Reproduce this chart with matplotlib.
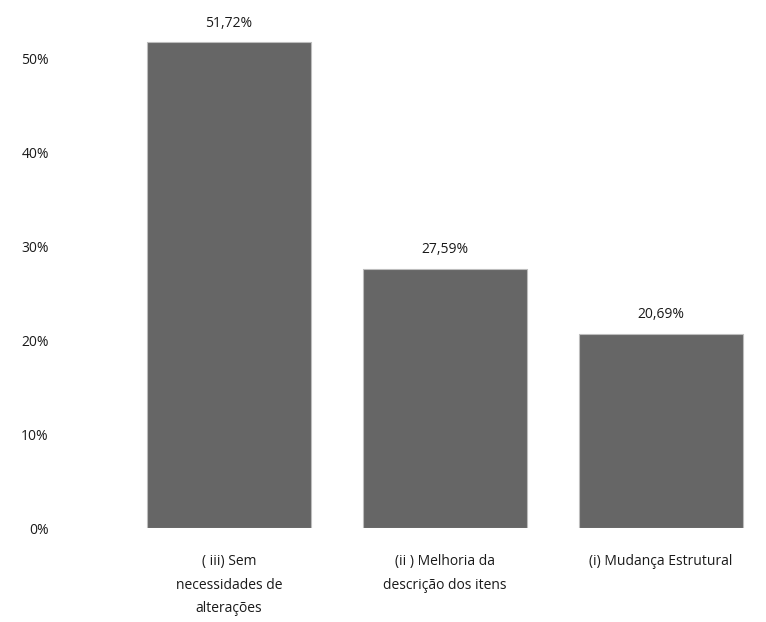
import matplotlib.pyplot as plt
from matplotlib.ticker import FuncFormatter

plt.rcParams['font.family'] = ['Open Sans', 'DejaVu Sans']

# respostas (percentual)
categorias = ["( iii) Sem\nnecessidades de\nalterações",
              "(ii ) Melhoria da\ndescrição dos itens",
              "(i) Mudança Estrutural"]
valores = [51.72, 27.59, 20.69]
yticks = [0, 10, 20, 30, 40, 50]

fig = plt.figure(figsize=(7.66, 6.22), dpi=100)
ax = fig.add_axes([121 / 766, 94 / 622, 645 / 766, 517 / 622])

x = range(len(valores))
barras = ax.bar(x, valores, width=0.755, color='#666666',
                edgecolor='#bdbdbd', linewidth=0.8)

for b, v in zip(barras, valores):
    ax.text(b.get_x() + b.get_width() / 2, v + 1.2,
            f"{v:.2f}".replace('.', ',') + '%',
            ha='center', va='bottom', fontsize=10, color='#1a1a1a')

ax.set_xlim(-0.5, -0.5 + 645 / 216)
ax.set_ylim(0, 55)
ax.set_yticks(yticks)
ax.yaxis.set_major_formatter(FuncFormatter(lambda v, p: f"{v:.0f}%"))
ax.set_xticks(list(x))
ax.set_xticklabels(categorias, fontsize=10, color='#1a1a1a', linespacing=1.75)
ax.tick_params(axis='y', length=0, pad=52, labelsize=10, labelcolor='#1a1a1a')
ax.tick_params(axis='x', length=0, pad=19)
for lado in ax.spines.values():
    lado.set_visible(False)

fig.savefig("out.png", dpi=100)
